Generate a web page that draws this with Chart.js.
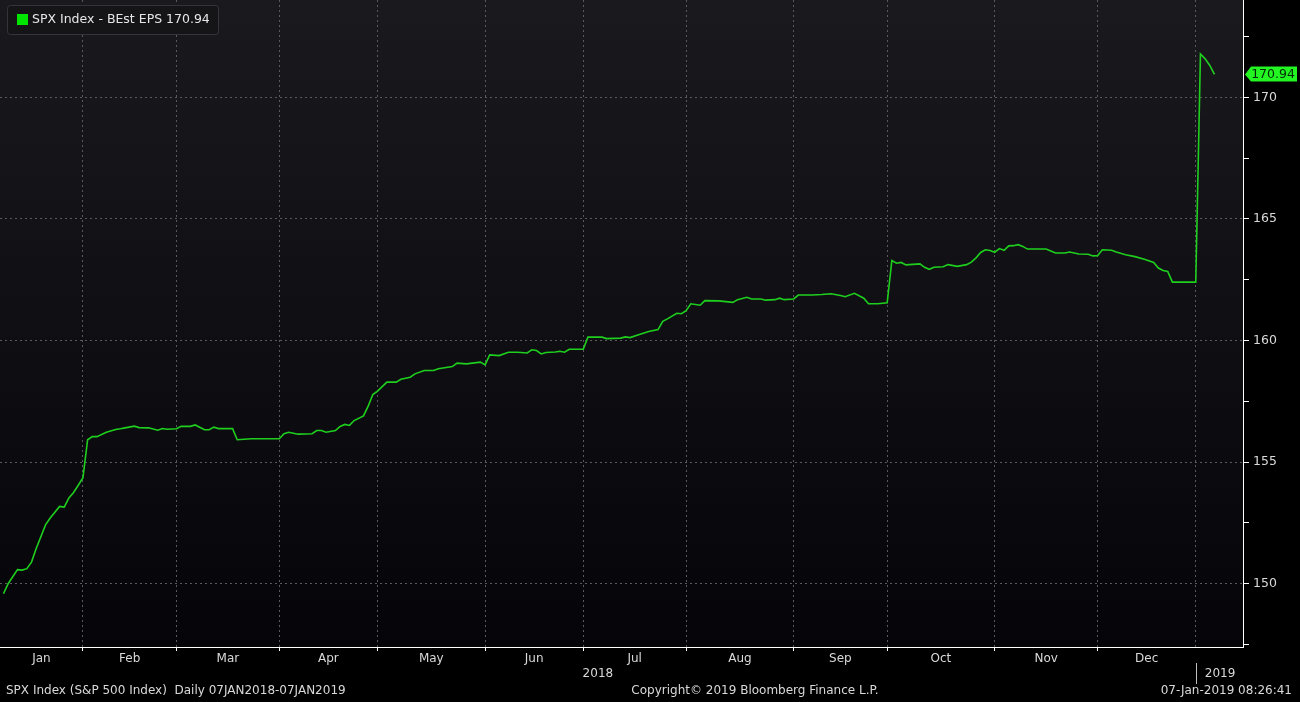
<!DOCTYPE html>
<html lang="en">
<head>
  <meta charset="UTF-8">
  <title>SPX Index - BEst EPS</title>
  <script src="https://cdn.jsdelivr.net/npm/chart.js"></script>
  <style>
    html, body {
      margin: 0;
      padding: 0;
      background: #000;
    }
    canvas {
      display: block;
    }
  </style>
</head>
<body>

  <canvas id="epsChart" width="1300" height="702"></canvas>

  <script>
    // weekday index counted from Mon 08-Jan-2018 (0) to Mon 07-Jan-2019 (260)
    const day = [
      1, 2, 4, 5, 6, 7, 8, 10, 11, 13, 14, 15, 16, 17, 18, 19, 20, 21, 23, 25,
      26, 27, 29, 30, 32, 34, 35, 36, 38, 39, 41, 42, 44, 45, 46, 47, 50, 51, 54, 60,
      61, 62, 64, 67, 68, 69, 70, 72, 73, 74, 75, 76, 78, 79, 80, 81, 83, 85, 86, 88,
      89, 91, 93, 94, 97, 98, 100, 103, 104, 105, 107, 109, 111, 113, 114, 115, 116, 117, 119, 120,
      121, 122, 125, 126, 129, 130, 133, 134, 135, 137, 139, 141, 142, 143, 145, 146, 147, 148, 150, 151,
      154, 155, 157, 158, 160, 161, 163, 164, 166, 167, 168, 170, 171, 174, 176, 178, 180, 181, 183, 185,
      186, 188, 190, 191, 192, 193, 194, 197, 198, 199, 200, 202, 203, 205, 207, 208, 209, 210, 211, 212,
      213, 214, 215, 216, 217, 218, 219, 220, 224, 226, 228, 229, 231, 233, 234, 235, 236, 238, 239, 241,
      243, 245, 247, 248, 249, 250, 251, 256, 257, 258, 259, 260
    ];

    // BEst EPS values
    const eps = [
      149.59, 150.00, 150.58, 150.56, 150.62, 150.89, 151.45, 152.42, 152.70, 153.18, 153.15, 153.53, 153.75, 154.05, 154.36, 155.92, 156.05, 156.05, 156.23, 156.34,
      156.37, 156.41, 156.48, 156.42, 156.41, 156.31, 156.38, 156.35, 156.37, 156.47, 156.47, 156.53, 156.33, 156.33, 156.44, 156.38, 156.38, 155.92, 155.96, 155.96,
      156.17, 156.23, 156.15, 156.17, 156.30, 156.30, 156.23, 156.30, 156.47, 156.55, 156.51, 156.71, 156.90, 157.30, 157.78, 157.92, 158.29, 158.29, 158.41, 158.49,
      158.63, 158.77, 158.77, 158.84, 158.93, 159.07, 159.04, 159.11, 159.00, 159.41, 159.38, 159.52, 159.52, 159.49, 159.62, 159.59, 159.45, 159.51, 159.53, 159.56,
      159.52, 159.64, 159.64, 160.14, 160.14, 160.08, 160.10, 160.15, 160.12, 160.25, 160.37, 160.45, 160.79, 160.89, 161.12, 161.10, 161.23, 161.51, 161.45, 161.64,
      161.63, 161.61, 161.57, 161.68, 161.78, 161.71, 161.71, 161.66, 161.68, 161.74, 161.68, 161.71, 161.87, 161.87, 161.89, 161.92, 161.85, 161.80, 161.94, 161.74,
      161.51, 161.51, 161.55, 163.29, 163.18, 163.21, 163.11, 163.15, 163.01, 162.93, 163.01, 163.03, 163.12, 163.05, 163.12, 163.22, 163.40, 163.62, 163.73, 163.70,
      163.63, 163.78, 163.71, 163.89, 163.90, 163.94, 163.87, 163.76, 163.76, 163.60, 163.60, 163.64, 163.56, 163.55, 163.48, 163.49, 163.73, 163.71, 163.64, 163.53,
      163.45, 163.34, 163.21, 162.98, 162.88, 162.84, 162.40, 162.40, 171.78, 171.58, 171.31, 170.94
    ];

    // month labels and the weekday index where each month starts
    const months = ['Jan', 'Feb', 'Mar', 'Apr', 'May', 'Jun', 'Jul', 'Aug', 'Sep', 'Oct', 'Nov', 'Dec'];
    const monthStart = [0.26, 18, 38, 60, 81, 104, 125, 147, 170, 190, 213, 235, 256];
    const years = ['2018', '2019'];
    const yTicks = [150, 155, 160, 165, 170];

    const last = eps[eps.length - 1];
    const green = '#1ecf1e';
    const textColor = '#d9d9d9';
    const font = "'DejaVu Sans', sans-serif";

    // month label positions (middle of each month) -> label
    const monthMid = {};
    months.forEach((m, i) => {
      monthMid[(monthStart[i] + monthStart[i + 1]) / 2] = m;
    });
    const bounds = monthStart.slice(1);

    const bbgPlugin = {
      id: 'bbg',
      beforeDraw(chart) {
        const { ctx, chartArea: a } = chart;
        ctx.save();
        ctx.fillStyle = '#000';
        ctx.fillRect(0, 0, chart.width, chart.height);
        const g = ctx.createLinearGradient(0, a.top, 0, a.bottom);
        g.addColorStop(0, '#1a1a1e');
        g.addColorStop(1, '#050509');
        ctx.fillStyle = g;
        ctx.fillRect(a.left, a.top, a.right - a.left, a.bottom - a.top);
        ctx.restore();
      },
      afterDraw(chart) {
        const { ctx, chartArea: a } = chart;
        const xs = chart.scales.x;
        const ys = chart.scales.y;
        ctx.save();

        // legend box
        ctx.fillStyle = '#151518';
        ctx.strokeStyle = '#34343a';
        ctx.lineWidth = 1;
        ctx.beginPath();
        ctx.roundRect(7.5, 5.5, 211, 29, 3);
        ctx.fill();
        ctx.stroke();
        ctx.fillStyle = '#00e600';
        ctx.fillRect(17, 14, 11, 11);
        ctx.fillStyle = '#e6e6e6';
        ctx.font = '12.5px ' + font;
        ctx.textBaseline = 'middle';
        ctx.textAlign = 'left';
        ctx.fillText('SPX Index - BEst EPS ' + last.toFixed(2), 32, 20);

        // last value tag on the right axis
        const ty = ys.getPixelForValue(last);
        ctx.fillStyle = '#22f522';
        ctx.beginPath();
        ctx.moveTo(a.right + 2, ty);
        ctx.lineTo(a.right + 8, ty - 8);
        ctx.lineTo(1297, ty - 8);
        ctx.lineTo(1297, ty + 7);
        ctx.lineTo(a.right + 8, ty + 7);
        ctx.closePath();
        ctx.fill();
        ctx.fillStyle = '#062806';
        ctx.textAlign = 'center';
        ctx.fillText(last.toFixed(2), 1273, ty);

        // year row
        ctx.font = '12px ' + font;
        const yb = xs.getPixelForValue(monthStart[12]);
        ctx.fillStyle = textColor;
        ctx.textAlign = 'center';
        ctx.fillText(years[0], (xs.getPixelForValue(monthStart[0]) + yb) / 2, 674);
        ctx.textAlign = 'left';
        ctx.fillText(years[1], yb + 9, 674);
        ctx.strokeStyle = '#bdbdbd';
        ctx.beginPath();
        ctx.moveTo(Math.round(yb) + 0.5, 663);
        ctx.lineTo(Math.round(yb) + 0.5, 684);
        ctx.stroke();

        // footer
        ctx.textAlign = 'left';
        ctx.fillText('SPX Index (S&P 500 Index)  Daily 07JAN2018-07JAN2019', 6, 691);
        ctx.textAlign = 'center';
        ctx.fillText('Copyright\u00a9 2019 Bloomberg Finance L.P.', 755, 691);
        ctx.textAlign = 'right';
        ctx.fillText('07-Jan-2019 08:26:41', 1292, 691);
        ctx.restore();
      }
    };

    const ctx = document.getElementById('epsChart').getContext('2d');
    const epsChart = new Chart(ctx, {
      type: 'line',
      data: {
        datasets: [{
          label: 'SPX Index - BEst EPS',
          data: day.map((d, i) => ({ x: d, y: eps[i] })),
          borderColor: green,
          borderWidth: 1.6,
          pointRadius: 0,
          tension: 0,
          fill: false
        }]
      },
      options: {
        responsive: false,
        animation: false,
        layout: { padding: 0 },
        plugins: {
          legend: { display: false },
          tooltip: { enabled: false }
        },
        scales: {
          x: {
            type: 'linear',
            position: 'bottom',
            min: 0.26,
            max: 266.1,
            afterBuildTicks: (s) => {
              const vals = bounds.concat(Object.keys(monthMid).map(Number));
              vals.sort((p, q) => p - q);
              s.ticks = vals.map(v => ({ value: v }));
            },
            afterFit: (s) => {
              s.height = 55;
              s.paddingLeft = 0;
              s.paddingRight = 0;
            },
            border: { color: '#ffffff', width: 1, dash: [2, 3] },
            grid: {
              color: (c) => (c.tick && bounds.includes(c.tick.value)) ? '#5a5a5e' : 'rgba(0,0,0,0)',
              tickColor: (c) => (c.tick && bounds.includes(c.tick.value) && c.tick.value < 256) ? '#ffffff' : 'rgba(0,0,0,0)',
              tickLength: 4,
              tickBorderDash: [],
              lineWidth: 1
            },
            ticks: {
              autoSkip: false,
              maxRotation: 0,
              includeBounds: false,
              padding: 1,
              color: textColor,
              font: { family: font, size: 12 },
              callback: (v) => monthMid[v] || ''
            }
          },
          y: {
            type: 'linear',
            position: 'right',
            min: 147.4,
            max: 174.0,
            afterBuildTicks: (s) => {
              const vals = [];
              yTicks.forEach(v => { vals.push(v - 2.5, v); });
              vals.push(yTicks[yTicks.length - 1] + 2.5);
              s.ticks = vals.map(v => ({ value: v }));
            },
            afterFit: (s) => {
              s.width = 57;
              s.paddingTop = 0;
              s.paddingBottom = 0;
            },
            border: { color: '#ffffff', width: 1, dash: [2, 3] },
            grid: {
              color: (c) => (c.tick && yTicks.includes(c.tick.value)) ? '#5a5a5e' : 'rgba(0,0,0,0)',
              tickColor: '#ffffff',
              tickLength: 6,
              tickBorderDash: [],
              lineWidth: 1
            },
            ticks: {
              includeBounds: false,
              padding: 4,
              color: textColor,
              font: { family: font, size: 12.5 },
              callback: (v) => yTicks.includes(v) ? v : ''
            }
          }
        }
      },
      plugins: [bbgPlugin]
    });
  </script>

</body>
</html>
